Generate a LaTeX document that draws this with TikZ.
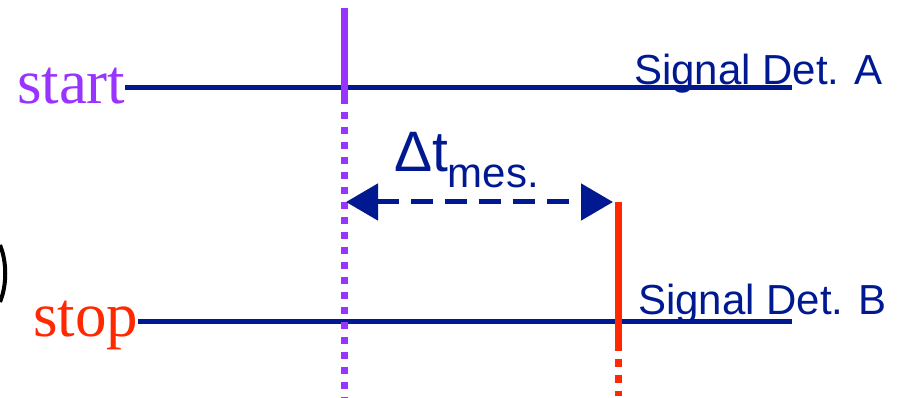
\documentclass[tikz,border=0pt]{standalone}
\usepackage{fontspec}
\setmainfont{Liberation Serif}
\setsansfont{Liberation Sans}
\usetikzlibrary{arrows.meta}
\definecolor{detblue}{RGB}{0,25,145}
\definecolor{startpurple}{RGB}{153,51,255}
\definecolor{stopred}{RGB}{255,40,0}
\begin{document}
\begin{tikzpicture}[x=1pt, y=-1pt,
  every node/.style={inner sep=0pt, outer sep=0pt},
  sig/.style={line width=5pt, detblue},
  timeline/.style={line width=7pt}]
  \useasboundingbox (0,0) rectangle (903,398);
  \node[anchor=base west, text=startpurple, font=\fontsize{63}{63}\selectfont] (start) at (17,104) {start};
  \node[anchor=base west, text=stopred, font=\fontsize{63}{63}\selectfont] (stop) at (33,337) {stop};
  \node[anchor=base west, text=detblue, font=\sffamily\fontsize{42}{42}\selectfont] (detA) at (634,85) {Signal Det. A};
  \node[anchor=base west, text=detblue, font=\sffamily\fontsize{42}{42}\selectfont] (detB) at (638,315) {Signal Det. B};
  \node[anchor=base west, text=detblue, font=\sffamily\fontsize{57}{57}\selectfont] (dt) at (394,172) {Δt\raisebox{-16pt}{\fontsize{42}{42}\selectfont mes.}};
  \coordinate (endA) at (792,88);
  \coordinate (endB) at (792,322);
  \coordinate (startTop) at (344,8);
  \coordinate (startMid) at (344,97);
  \coordinate (startBot) at (344,398);
  \coordinate (stopTop) at (618,202);
  \coordinate (stopMid) at (618,343);
  \coordinate (stopBot) at (618,396);
  \draw[sig] (start.east |- endA) -- (endA);
  \draw[sig] (stop.east |- endB) -- (endB);
  \draw[timeline, startpurple] (startTop) -- (startMid);
  \draw[timeline, startpurple, dash pattern=on 7pt off 8pt] (startMid) -- (startBot);
  \draw[timeline, stopred] (stopTop) -- (stopMid);
  \draw[timeline, stopred, dash pattern=on 8pt off 8pt] (stopMid) -- (stopBot);
  \draw[line width=5pt, detblue, dash pattern=on 22pt off 12pt,
    {Triangle[length=32pt,width=36pt]}-{Triangle[length=32pt,width=36pt]}]
    ([xshift=2pt]startMid |- stopTop) -- ([xshift=-5pt]stopTop);
  \draw[line width=4pt, black] (0,245) .. controls (7,262) and (7,285) .. (0,302);
\end{tikzpicture}
\end{document}
